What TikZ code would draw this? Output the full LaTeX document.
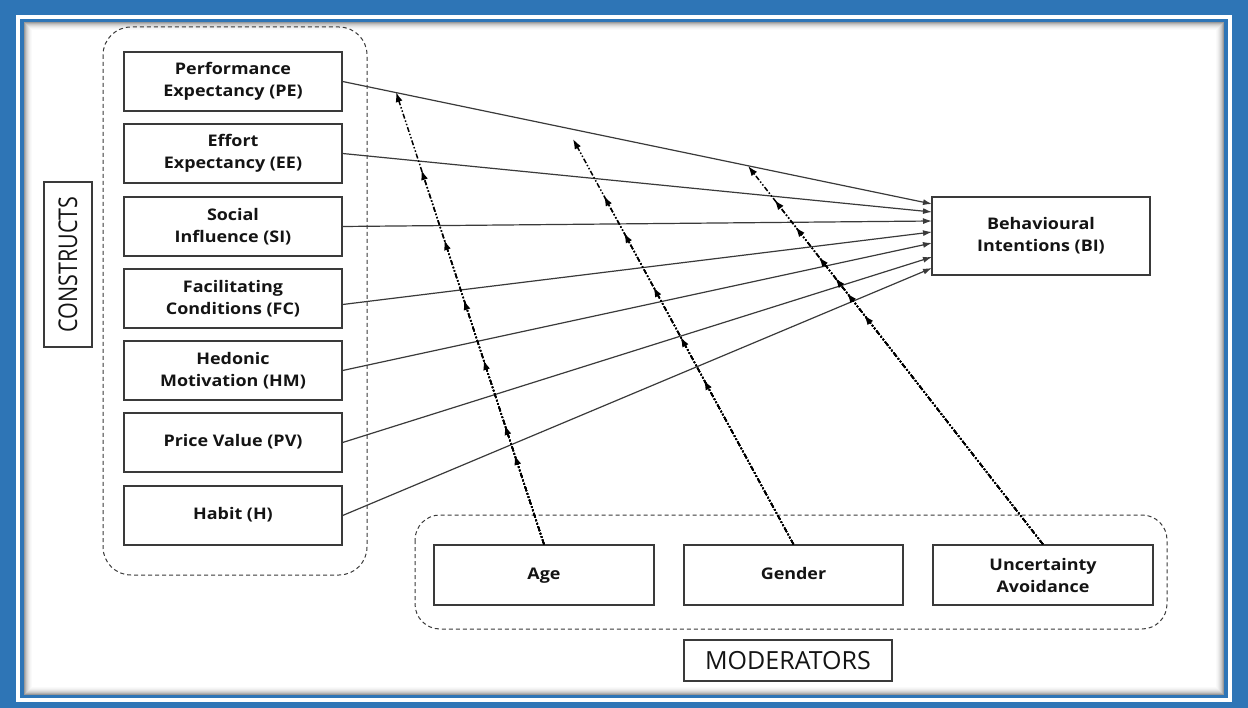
\documentclass[tikz,border=0pt]{standalone}
\usepackage{fontspec}
\usepackage{graphicx}
\usetikzlibrary{arrows.meta,calc}
\newfontfamily\boxfont[FakeStretch=1.12]{Open Sans}
\newfontfamily\capfont{Open Sans}
\definecolor{frameblue}{HTML}{2E75B6}
\definecolor{ink}{HTML}{141414}
\definecolor{edgec}{HTML}{3A3A3A}
\begin{document}
\begin{tikzpicture}[x=1pt,y=-1pt,
  cbox/.style={draw=edgec,line width=1.3pt,minimum width=218pt,minimum height=59pt,inner sep=0pt,align=center,
    font=\boxfont\bfseries\fontsize{16}{22}\selectfont,text=ink},
  lbl/.style={draw=edgec,line width=1.3pt,inner sep=0pt,align=center,text=ink},
  grp/.style={draw=edgec,line width=1pt,dash pattern=on 4pt off 3pt,rounded corners=28pt},
  carrow/.style={draw=edgec,line width=1.2pt,-{Latex[length=9pt,width=6pt]}},
  marrow/.style={draw=black,line width=1.5pt,dash pattern=on 5pt off 2pt on 1.5pt off 2pt on 1.5pt off 2pt,
    -{Latex[length=10pt,width=7pt]}}
]
\useasboundingbox (0,0) rectangle (1248,708);
% frame
\fill[frameblue] (0,0) rectangle (1248,708);
\fill[white] (16,15) rectangle (1232,702);
\fill[frameblue] (20,19) rectangle (1228,698);
\fill[white] (24,22) rectangle (1224,695);
\foreach \i/\o in {0/0.40,1/0.30,2/0.22,3/0.16,4/0.11,5/0.07,6/0.04,7/0.02}
  \draw[black,opacity=\o,line width=1pt] (24.5+\i,22.5+\i) rectangle (1223.5-\i,694.5-\i);

% groups
\draw[grp] (103,27) rectangle (367,575);
\draw[grp,rounded corners=25pt] (415,515) rectangle (1167,629);

% construct boxes
\node[cbox] (pe) at (233,81.5) {Performance\\Expectancy (PE)};
\node[cbox] (ee) at (233,153.5) {Effort\\Expectancy (EE)};
\node[cbox] (si) at (233,226.5) {Social\\Influence (SI)};
\node[cbox] (fc) at (233,298.5) {Facilitating\\Conditions (FC)};
\node[cbox] (hm) at (233,370.5) {Hedonic\\Motivation (HM)};
\node[cbox] (pv) at (233,442.5) {\strut Price Value (PV)};
\node[cbox] (h)  at (233,515.5) {\strut Habit (H)};

\node[cbox,minimum height=78pt] (bi) at (1041,236) {Behavioural\\Intentions (BI)};

\node[cbox,minimum width=220pt,minimum height=60pt] (age) at (544,575) {\strut Age};
\node[cbox,minimum width=219pt,minimum height=60pt] (gen) at (793.5,575) {\strut Gender};
\node[cbox,minimum width=220pt,minimum height=60pt] (ua) at (1043,575) {Uncertainty\\Avoidance};

\node[lbl,minimum width=165pt,minimum height=48pt,rotate=90,font=\capfont\fontsize{21.5}{24}\selectfont] (con) at (68,264.5)
  {\scalebox{1}[1.2]{CONSTRUCTS}};
\node[lbl,minimum width=208pt,minimum height=41pt,font=\capfont\fontsize{25}{28}\selectfont] (mod) at (788,660.5) {MODERATORS};

% construct arrow targets
\coordinate (b1) at (932,204);
\coordinate (b2) at (932,212);
\coordinate (b3) at (932,221);
\coordinate (b4) at (932,232);
\coordinate (b5) at (932,243);
\coordinate (b6) at (932,257);
\coordinate (b7) at (932,268);
\draw[carrow] (pe.east) -- (b1);
\draw[carrow] (ee.east) -- (b2);
\draw[carrow] (si.east) -- (b3);
\draw[carrow] ($(fc.east)+(0,6)$) -- (b4);
\draw[carrow] (hm.east) -- (b5);
\draw[carrow] (pv.east) -- (b6);
\draw[carrow] (h.east) -- (b7);

% moderator arrow tips
\coordinate (a1) at (396,92);
\coordinate (a2) at (421.4,170);
\coordinate (a3) at (444.3,240);
\coordinate (a4) at (463.9,300);
\coordinate (a5) at (483.5,360);
\coordinate (a6) at (504.8,425);
\coordinate (a7) at (514.6,455);
\coordinate (g1) at (573,139);
\coordinate (g2) at (604,196);
\coordinate (g3) at (624.1,233);
\coordinate (g4) at (653.4,287);
\coordinate (g5) at (680.6,337);
\coordinate (g6) at (703.9,380);
\coordinate (u1) at (748.1,166);
\coordinate (u2) at (774.6,200);
\coordinate (u3) at (795.6,227);
\coordinate (u4) at (818.9,257);
\coordinate (u5) at (835.3,278);
\coordinate (u6) at (847,293);
\coordinate (u7) at (864.1,315);
\foreach \t in {a1,a2,a3,a4,a5,a6,a7} \draw[marrow] (age.north) -- (\t);
\foreach \t in {g1,g2,g3,g4,g5,g6} \draw[marrow] (gen.north) -- (\t);
\foreach \t in {u1,u2,u3,u4,u5,u6,u7} \draw[marrow] (ua.north) -- (\t);
\end{tikzpicture}
\end{document}
